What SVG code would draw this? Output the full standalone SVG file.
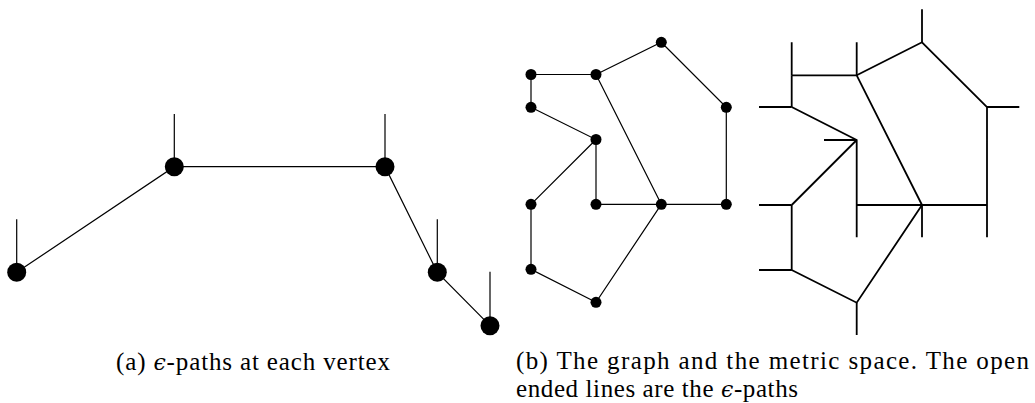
<svg xmlns="http://www.w3.org/2000/svg" width="1035" height="403" viewBox="0 0 1035 403">
<style>
.e{stroke:#000;stroke-width:1.2;fill:none;stroke-linecap:butt}
.m{stroke:#000;stroke-width:1.8;fill:none;stroke-linecap:butt}
.big{fill:#000}
.sm{fill:#000}
.cap{font-family:"Liberation Serif","DejaVu Serif",serif;font-size:25px;fill:#000}
.eps{font-family:"DejaVu Serif","Liberation Serif",serif;font-style:italic;font-size:22px}
</style>
<rect width="1035" height="403" fill="#fff"/>
<!-- Panel (a) -->
<g id="a-connectors">
<path class="e" d="M16.7,272.3 L174.3,166.7 L385,166.7 L437.3,272.3 L490,325.7"/>
<path class="e" d="M16.7,219.3 V272.3 M174.3,114 V166.7 M385,114 V166.7 M437.3,219.3 V272.3 M490,271.7 V325.7"/>
</g>
<g id="a-v1"><circle class="big" cx="16.7" cy="272.3" r="9.5"/></g>
<g id="a-v2"><circle class="big" cx="174.3" cy="166.7" r="9.5"/></g>
<g id="a-v3"><circle class="big" cx="385" cy="166.7" r="9.5"/></g>
<g id="a-v4"><circle class="big" cx="437.3" cy="272.3" r="9.5"/></g>
<g id="a-v5"><circle class="big" cx="490" cy="325.7" r="9.5"/></g>
<!-- Panel (b) graph -->
<g id="b-connectors">
<path class="e" d="M531,74.5 H596 M531,74.5 V107.3 M596,74.5 L661.3,42.3 L726.3,107.3 V204.3 M596,74.5 L661.3,204.3 M531,107.3 L596,139.5 V204.3 M596,139.5 L531,204.3 M596,204.3 H726.3 M531,204.3 V269.3 L596,302.3 L661.3,204.3"/>
</g>
<g id="g1"><circle class="sm" cx="531" cy="74.5" r="5.5"/></g>
<g id="g2"><circle class="sm" cx="596" cy="74.5" r="5.5"/></g>
<g id="g3"><circle class="sm" cx="661.3" cy="42.3" r="5.5"/></g>
<g id="g4"><circle class="sm" cx="726.3" cy="107.3" r="5.5"/></g>
<g id="g5"><circle class="sm" cx="531" cy="107.3" r="5.5"/></g>
<g id="g6"><circle class="sm" cx="596" cy="139.5" r="5.5"/></g>
<g id="g7"><circle class="sm" cx="531" cy="204.3" r="5.5"/></g>
<g id="g8"><circle class="sm" cx="596" cy="204.3" r="5.5"/></g>
<g id="g9"><circle class="sm" cx="661.3" cy="204.3" r="5.5"/></g>
<g id="g10"><circle class="sm" cx="726.3" cy="204.3" r="5.5"/></g>
<g id="g11"><circle class="sm" cx="531" cy="269.3" r="5.5"/></g>
<g id="g12"><circle class="sm" cx="596" cy="302.3" r="5.5"/></g>
<!-- Panel (b) metric space -->
<g id="metric-space">
<path class="m" d="M791.7,75.3 H856.7 M791.7,75.3 V107 M856.7,75.3 L922,42.3 L987,107 V205 M856.7,75.3 L922,205 M791.7,107 L856.7,140 V205 M856.7,140 L791.7,205 M856.7,205 H987 M791.7,205 V270 L856.7,302.7 L922,205"/>
<path class="m" d="M791.7,42.3 V75.3 M856.7,42.3 V75.3 M922,9.3 V42.3 M987,107 H1019.3 M791.7,107 H759 M856.7,140 H824 M791.7,205 H759 M856.7,205 V237.3 M922,205 V237.3 M987,205 V237.3 M791.7,270 H759 M856.7,302.7 V335"/>
</g>
<!-- Captions -->
<g id="caption-a">
<text class="cap" x="116" y="370" textLength="274" lengthAdjust="spacing">(a) <tspan class="eps">ϵ</tspan>-paths at each vertex</text>
</g>
<g id="caption-b">
<text class="cap" x="516" y="369" textLength="513" lengthAdjust="spacing">(b) The graph and the metric space. The open</text>
<text class="cap" x="516" y="397" textLength="282" lengthAdjust="spacing">ended lines are the <tspan class="eps">ϵ</tspan>-paths</text>
</g>
</svg>
